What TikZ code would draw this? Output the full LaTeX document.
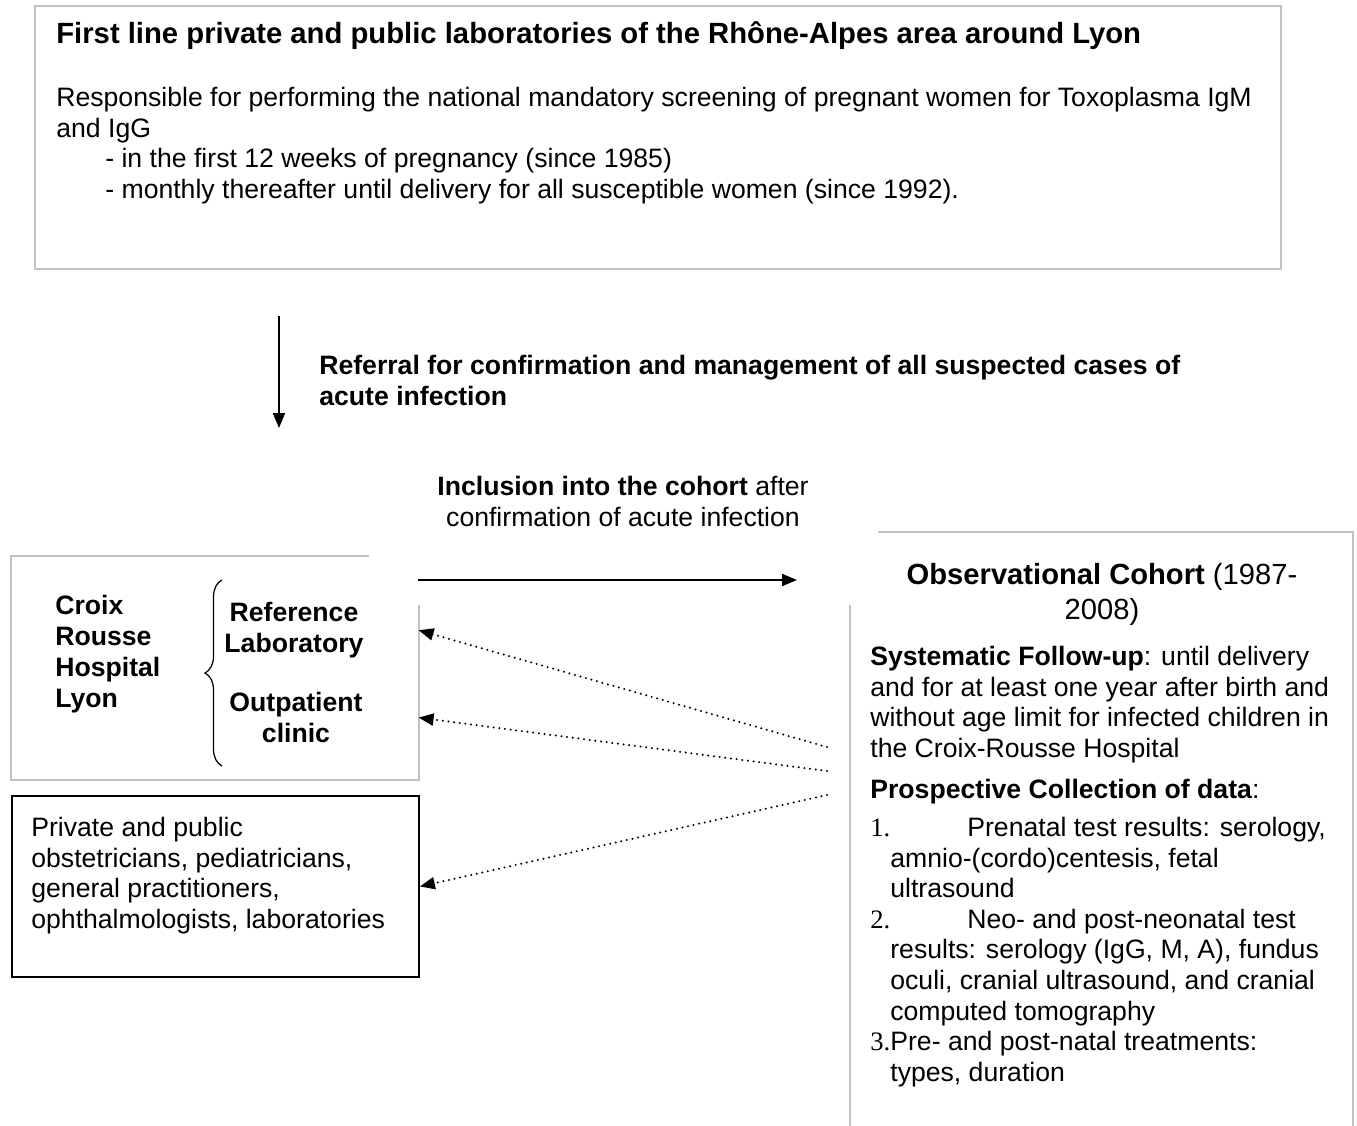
\documentclass[tikz,border=0pt]{standalone}
\usepackage{fontspec}
\setmainfont{Liberation Sans}
\newfontfamily\numfont{Liberation Serif}
\usetikzlibrary{arrows.meta, decorations.pathreplacing}

\tikzset{
    txt/.style={inner sep=0pt, align=left, anchor=north west, font=\fontsize{15.15}{17.4}\selectfont},
    head/.style={txt, font=\fontsize{15.15}{17.6}\selectfont\bfseries},
    graybox/.style={draw=black!24, line width=0.04cm},
    blackbox/.style={draw=black, line width=0.04cm, inner sep=0pt},
    link/.style={-{Triangle[length=0.3cm, width=0.24cm]}, line width=0.04cm},
    dotlink/.style={link, line cap=round, dash pattern=on 0pt off 0.114cm, line width=0.045cm}
}

\begin{document}
\begin{tikzpicture}[x=0.02cm, y=-0.02cm]

\useasboundingbox (0,0) rectangle (1357,1126);

% first line laboratories
\node[graybox, inner sep=0pt, minimum width=24.92cm, minimum height=5.26cm, anchor=north west] (labs) at (34,5) {};
\node[head, font=\fontsize{16.65}{19}\selectfont\bfseries] (labtitle) at (56,21) {First line private and public laboratories of the Rhône-Alpes area around Lyon};
\node[txt] (duty) at (56,87) {Responsible for performing the national mandatory screening of pregnant women for Toxoplasma IgM\\
and IgG\\
\hspace*{0.98cm}- in the first 12 weeks of pregnancy (since 1985)\\
\hspace*{0.98cm}- monthly thereafter until delivery for all susceptible women (since 1992).};

% referral
\coordinate (refA) at (279,316);
\coordinate (refB) at (279,428);
\draw[link] (refA) -- (refB);
\node[head] (referral) at (319,355) {Referral for confirmation and management of all suspected cases of\\acute infection};

% inclusion
\node[txt, anchor=north, align=center] (incl) at (623,476) {\textbf{Inclusion into the cohort} after\\confirmation of acute infection};
\coordinate (inclA) at (418,580);
\coordinate (inclB) at (797,580);
\draw[link] (inclA) -- (inclB);

% hospital
\node[inner sep=0pt, minimum width=8.14cm, minimum height=4.46cm, anchor=north west] (hosp) at (11,556) {};
\draw[graybox] ([xshift=7.16cm]hosp.north west) -- (hosp.north west) -- (hosp.south west) -- (hosp.south east) -- ([yshift=-0.98cm]hosp.north east);
\node[head] (croix) at (55,595) {Croix\\Rousse\\Hospital\\Lyon};
\draw[decorate, decoration={brace, amplitude=0.34cm}, line width=0.025cm] (222,766) -- (222,580);
\node[head, anchor=north, align=center] (lab) at (294,602) {Reference\\Laboratory};
\node[head, anchor=north, align=center] (clinic) at (296,692) {Outpatient\\clinic};

% private and public
\node[blackbox, minimum width=8.14cm, minimum height=3.62cm, anchor=north west] (priv) at (11,795) {};
\node[txt] (privtxt) at (31,817) {Private and public\\obstetricians, pediatricians,\\general practitioners,\\ophthalmologists, laboratories};

% cohort
\node[inner sep=0pt, minimum width=10.04cm, minimum height=11.88cm, anchor=north west] (cohort) at (850,532) {};
\draw[graybox] ([xshift=0.56cm]cohort.north west) -- (cohort.north east) -- (cohort.south east);
\draw[graybox] ([yshift=-1.46cm]cohort.north west) -- (cohort.south west);
\node[txt, anchor=north, align=center, font=\fontsize{16.6}{19.9}\selectfont] (cohorttitle) at (1102,563) {\textbf{Observational Cohort} (1987-\\2008)};
\node[txt] (follow) at (870,646) {\textbf{Systematic Follow-up}: until delivery\\
and for at least one year after birth and\\
without age limit for infected children in\\
the Croix-Rousse Hospital};
\node[txt] (collect) at (870,779) {\textbf{Prospective Collection of data}:};
\node[txt] (items) at (870,817) {\makebox[1.94cm][l]{\numfont 1.}Prenatal test results: serology,\\
\hspace*{0.4cm}amnio-(cordo)centesis, fetal\\
\hspace*{0.4cm}ultrasound\\
\makebox[1.94cm][l]{\numfont 2.}Neo- and post-neonatal test\\
\hspace*{0.4cm}results: serology (IgG, M, A), fundus\\
\hspace*{0.4cm}oculi, cranial ultrasound, and cranial\\
\hspace*{0.4cm}computed tomography\\
\makebox[0.4cm][l]{\numfont 3.}Pre- and post-natal treatments:\\
\hspace*{0.4cm}types, duration};

% feedback
\coordinate (backA) at (827,747);
\coordinate (backB) at (827,771);
\coordinate (backC) at (827,795);
\draw[dotlink] (backA) -- (hosp.east |- lab);
\draw[dotlink] (backB) -- (hosp.east |- clinic);
\draw[dotlink] (backC) -- (priv.east);

\end{tikzpicture}
\end{document}
